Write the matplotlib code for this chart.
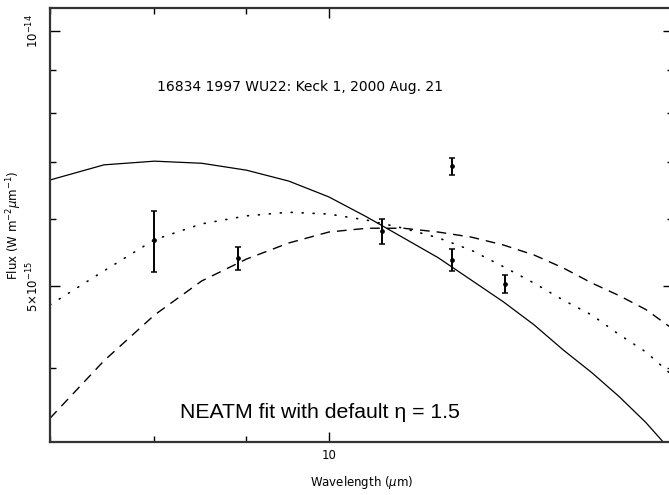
import matplotlib
matplotlib.use("Agg")
import matplotlib.pyplot as plt
import numpy as np

# observed fluxes (W m^-2 um^-1), 16834 1997 WU22
obs_wl = [8.00, 8.90, 10.70, 11.71, 11.71, 12.52]
obs_flux = [5.66e-15, 5.39e-15, 5.80e-15, 6.93e-15, 5.37e-15, 5.03e-15]
obs_err = [0.47e-15, 0.17e-15, 0.20e-15, 0.16e-15, 0.16e-15, 0.12e-15]

# model curves on a common wavelength grid
model_wl = [7.0, 7.5, 8.0, 8.5, 9.0, 9.5, 10.0, 10.5, 11.0, 11.5,
            12.0, 12.5, 13.0, 13.5, 14.0, 14.5, 15.0, 15.5]
solid_flux = [6.67, 6.95, 7.02, 6.98, 6.85, 6.65, 6.37, 6.03, 5.70, 5.40,
              5.08, 4.79, 4.50, 4.20, 3.95, 3.70, 3.45, 3.19]
dotted_flux = [4.75, 5.21, 5.67, 5.92, 6.05, 6.11, 6.08, 5.98, 5.85, 5.70,
               5.51, 5.27, 5.04, 4.81, 4.62, 4.38, 4.18, 3.93]
dashed_flux = [3.49, 4.08, 4.62, 5.07, 5.38, 5.62, 5.79, 5.85, 5.85, 5.79,
               5.71, 5.59, 5.44, 5.25, 5.04, 4.87, 4.69, 4.46]

plt.rcParams['lines.scale_dashes'] = False

fig = plt.figure(figsize=(6.69, 4.95), dpi=100)
ax = fig.add_axes([50/669, 1-442/495, 623/669, 434/495])

wl = np.array(model_wl)
ax.plot(wl, np.array(solid_flux)*1e-15, color='k', lw=0.9)
ax.plot(wl, np.array(dotted_flux)*1e-15, color='k', lw=1.2, dashes=(0.7, 7.2),
        dash_capstyle='round')
ax.plot(wl, np.array(dashed_flux)*1e-15, color='k', lw=1.0, dashes=(7, 5))

ax.errorbar(obs_wl, obs_flux, yerr=obs_err, fmt='o', ms=2.4, color='k',
            elinewidth=1.4, capsize=2.2, capthick=1.1)

ax.set_xscale('log')
ax.set_yscale('log')
ax.set_xlim(7.0, 15.53)
ax.set_ylim(3.272e-15, 1.0645e-14)

ax.set_xticks([10])
ax.set_xticklabels(['10'])
ax.set_xticks([7, 8, 9], minor=True)
ax.set_xticklabels([], minor=True)
ax.set_yticks([5e-15, 1e-14])
ax.set_yticklabels([r'5$\times$10$^{-15}$', r'10$^{-14}$'], rotation=90, va='center')
ax.set_yticks([4e-15, 6e-15, 7e-15, 8e-15, 9e-15], minor=True)
ax.set_yticklabels([], minor=True)

ax.tick_params(which='both', direction='in', top=True, right=True, labelsize=8.5, width=1)
ax.tick_params(which='major', length=7)
ax.tick_params(which='minor', length=4)
ax.tick_params(axis='y', pad=6)
ax.tick_params(axis='x', pad=5)
for s in ax.spines.values():
    s.set_linewidth(1.6)
    s.set_color('#333333')

ax.set_xlabel(r'Wavelength ($\mu$m)', fontsize=8.5, labelpad=9)
ax.set_ylabel(r'Flux (W m$^{-2}$$\mu$m$^{-1}$)', fontsize=8.5, labelpad=1)

fig.text(300/669, 1-87/495, '16834 1997 WU22: Keck 1, 2000 Aug. 21',
         ha='center', va='center', fontsize=10)
fig.text(320/669, 1-412/495, 'NEATM fit with default η = 1.5',
         ha='center', va='center', fontsize=15.3, family='Liberation Sans')

fig.savefig('out.png', dpi=100)
